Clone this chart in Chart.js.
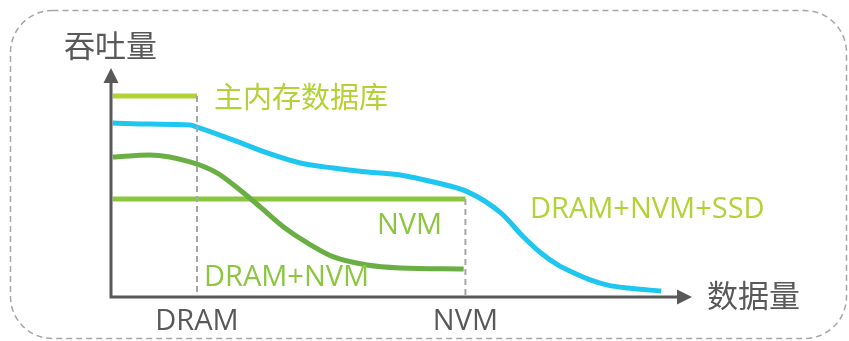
<!DOCTYPE html>
<html>
<head>
<meta charset="utf-8">
<script src="https://cdn.jsdelivr.net/npm/chart.js@4.4.1/dist/chart.umd.min.js"></script>
<style>
  html, body { margin: 0; padding: 0; background: #fff; }
  #wrap { width: 849px; height: 341px; position: relative; }
</style>
</head>
<body>
<div id="wrap"><canvas id="chart"></canvas></div>
<script>
// Throughput vs data size - conceptual curves
const yTitle = '吞吐量';
const xTitle = '数据量';
const xTickLabels = ['DRAM', 'NVM'];
const xTickValues = [14.8, 61];

// main-memory database (only while data fits in DRAM)
const mainMemX = [0.3, 14.8];
const mainMemY = [87.8, 87.8];

// NVM only
const nvmX = [0.3, 61];
const nvmY = [42.8, 42.8];

// DRAM + NVM
const dramNvmX = [0.3, 6.7, 13.6, 18.3, 22.2, 25.7, 29.7, 33.8, 38.3, 44.1, 49.8, 60.7];
const dramNvmY = [61.1, 62.0, 59.0, 54.1, 46.7, 39.3, 30.6, 23.6, 17.5, 14.0, 12.7, 12.2];

// DRAM + NVM + SSD
const ssdX = [0.3, 6.7, 13.6, 14.8, 21.0, 26.9, 32.6, 38.3, 44.1, 49.8, 55.5, 61.4, 67.1, 71.0, 74.0, 76.9, 79.7, 82.6, 85.5, 89.0, 94.7];
const ssdY = [76.0, 75.5, 75.1, 74.2, 68.6, 62.9, 58.5, 56.3, 54.6, 53.3, 50.2, 45.9, 36.7, 26.2, 19.2, 14.0, 10.5, 7.4, 5.2, 3.9, 2.6];

// dashed guides dropping from the end of each capacity
const dramGuideX = [14.8, 14.8];
const dramGuideY = [87.8, 0];
const nvmGuideX = [61, 61];
const nvmGuideY = [42.8, 0];

const LIME = '#b2d235';
const LEAF = '#8cc63f';
const GREEN = '#6aaf44';
const BLUE = '#1fc6f0';
const GREY = '#595959';
const DASH = '#a6a6a6';

const latin = '"Open Sans", "Noto Sans", sans-serif';
const cjk = '"Noto Sans CJK SC", sans-serif';

function pts(xs, ys) {
    return xs.map((x, i) => ({ x: x, y: ys[i] }));
}

function lineSet(xs, ys, color, extra) {
    return Object.assign({
        data: pts(xs, ys),
        borderColor: color,
        borderWidth: 5,
        borderCapStyle: 'butt',
        pointRadius: 0,
        fill: false,
        cubicInterpolationMode: 'monotone'
    }, extra || {});
}

function roundRect(ctx, x, y, w, h, r) {
    ctx.beginPath();
    ctx.moveTo(x + r, y);
    ctx.lineTo(x + w - r, y);
    ctx.arcTo(x + w, y, x + w, y + r, r);
    ctx.lineTo(x + w, y + h - r);
    ctx.arcTo(x + w, y + h, x + w - r, y + h, r);
    ctx.lineTo(x + r, y + h);
    ctx.arcTo(x, y + h, x, y + h - r, r);
    ctx.lineTo(x, y + r);
    ctx.arcTo(x, y, x + r, y, r);
    ctx.closePath();
}

// frame, arrows and text labels
const decorations = {
    id: 'decorations',
    beforeDatasetsDraw(chart) {
        const ctx = chart.ctx;
        ctx.save();
        ctx.setLineDash([6, 4]);
        ctx.strokeStyle = DASH;
        ctx.lineWidth = 1.5;
        roundRect(ctx, 10.5, 10.5, 836, 328, 42);
        ctx.stroke();
        ctx.restore();
    },
    afterDatasetsDraw(chart) {
        const ctx = chart.ctx;
        const xs = chart.scales.x;
        const ys = chart.scales.y;
        const x0 = xs.getPixelForValue(0);
        const y0 = ys.getPixelForValue(0);
        const yTop = ys.getPixelForValue(100);
        const xEnd = xs.getPixelForValue(100);

        ctx.save();
        // axes
        ctx.strokeStyle = GREY;
        ctx.fillStyle = GREY;
        ctx.lineWidth = 3;
        ctx.setLineDash([]);
        ctx.beginPath();
        ctx.moveTo(x0, y0 + 1.5);
        ctx.lineTo(x0, yTop + 12);
        ctx.moveTo(x0 - 1.5, y0);
        ctx.lineTo(xEnd - 12, y0);
        ctx.stroke();
        ctx.beginPath();
        ctx.moveTo(x0, yTop);
        ctx.lineTo(x0 - 7.5, yTop + 15);
        ctx.lineTo(x0 + 7.5, yTop + 15);
        ctx.closePath();
        ctx.fill();
        ctx.beginPath();
        ctx.moveTo(xEnd, y0);
        ctx.lineTo(xEnd - 15, y0 - 7.5);
        ctx.lineTo(xEnd - 15, y0 + 7.5);
        ctx.closePath();
        ctx.fill();

        // axis titles
        ctx.textBaseline = 'middle';
        ctx.textAlign = 'left';
        ctx.font = '31px ' + cjk;
        ctx.fillText(yTitle, 64, 45);
        ctx.fillText(xTitle, 707, 295);

        // tick labels
        ctx.textAlign = 'center';
        ctx.font = '29px ' + latin;
        xTickLabels.forEach((t, i) => {
            ctx.fillText(t, xs.getPixelForValue(xTickValues[i]), 322);
        });

        // series labels
        ctx.textAlign = 'left';
        ctx.fillStyle = LIME;
        ctx.font = '29px ' + cjk;
        ctx.fillText('主内存数据库', 214, 97);
        ctx.font = '29px ' + latin;
        ctx.fillText('DRAM+NVM+SSD', 530, 210);
        ctx.fillStyle = LEAF;
        ctx.fillText('NVM', 377, 226);
        ctx.fillText('DRAM+NVM', 204, 278);
        ctx.restore();
    }
};

new Chart(document.getElementById('chart'), {
    type: 'line',
    data: {
        datasets: [
            lineSet(dramGuideX, dramGuideY, DASH, { borderWidth: 2, borderDash: [6, 4], cubicInterpolationMode: 'default' }),
            lineSet(nvmGuideX, nvmGuideY, DASH, { borderWidth: 2, borderDash: [6, 4], cubicInterpolationMode: 'default' }),
            lineSet(ssdX, ssdY, BLUE),
            lineSet(dramNvmX, dramNvmY, GREEN),
            lineSet(nvmX, nvmY, LEAF),
            lineSet(mainMemX, mainMemY, LIME)
        ]
    },
    options: {
        responsive: true,
        maintainAspectRatio: false,
        animation: false,
        layout: {
            padding: { left: 111, right: 157, top: 68, bottom: 44 }
        },
        plugins: {
            legend: { display: false },
            tooltip: { enabled: false }
        },
        scales: {
            x: { type: 'linear', min: 0, max: 100, display: false },
            y: { type: 'linear', min: 0, max: 100, display: false }
        }
    },
    plugins: [decorations]
});
</script>
</body>
</html>
